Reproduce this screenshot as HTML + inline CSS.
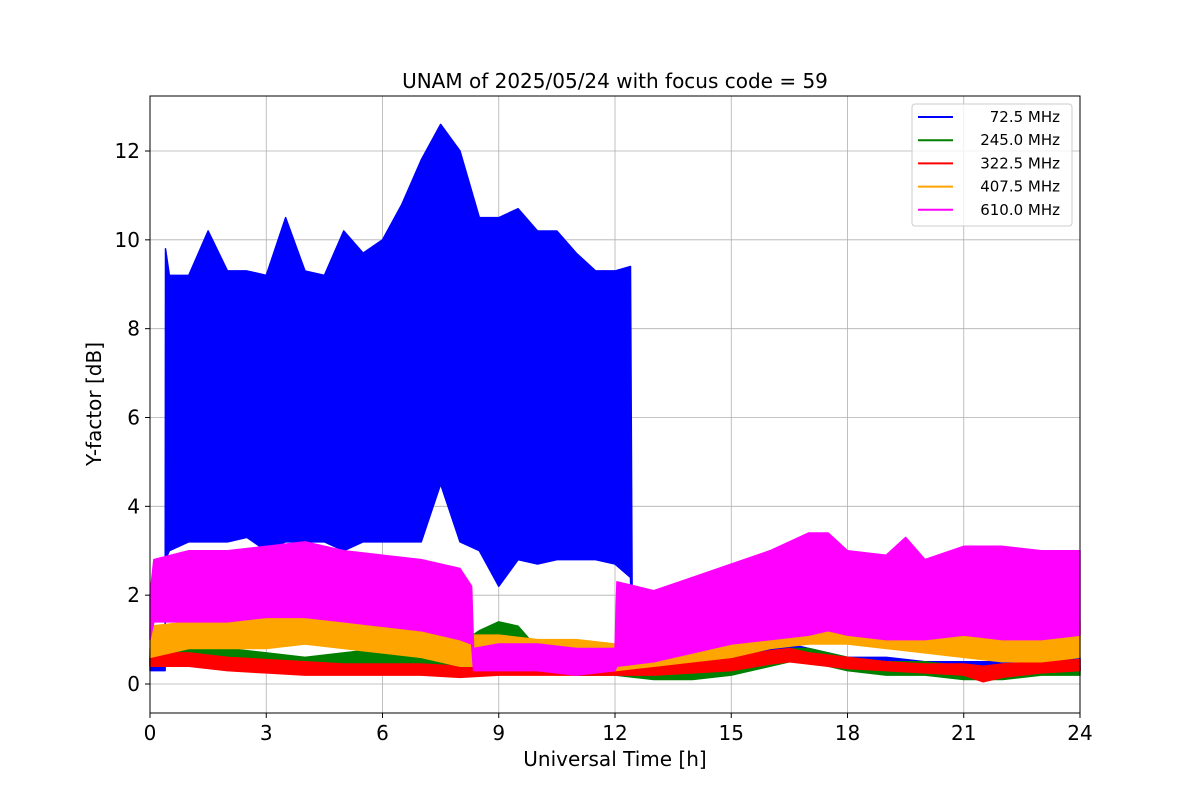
<!DOCTYPE html>
<html><head><meta charset="utf-8">
<style>
body{margin:0;background:#fff;}
svg text{font-family:"DejaVu Sans","Liberation Sans",sans-serif;fill:#000;}
</style></head>
<body>
<svg id="chart" width="1200" height="800" xmlns="http://www.w3.org/2000/svg">
<rect width="1200" height="800" fill="#fff"/>
<g id="grid"></g>
<g id="series"></g>
<rect x="150" y="96" width="930" height="617" fill="none" stroke="#000" stroke-width="1"/>
<g id="axes"></g>
<text x="615" y="88" text-anchor="middle" font-size="20">UNAM of 2025/05/24 with focus code = 59</text>
<text x="615" y="766" text-anchor="middle" font-size="20">Universal Time [h]</text>
<text transform="translate(101,404) rotate(-90)" text-anchor="middle" font-size="20">Y-factor [dB]</text>
<g id="legend">
<rect x="912" y="104" width="160" height="122" rx="3" fill="#fff" fill-opacity="0.8" stroke="#ccc"/>
</g>
</svg>
<script>
const xTicks=[0,3,6,9,12,15,18,21,24];
const yTicks=[0,2,4,6,8,10,12];
const seriesNames=["72.5 MHz","245.0 MHz","322.5 MHz","407.5 MHz","610.0 MHz"];
const seriesColors=["#0000ff","#008000","#ff0000","#ffa500","#ff00ff"];
const blueT=[0,0.39,0.4,0.5,1,1.5,2,2.5,3,3.5,4,4.5,5,5.5,6,6.5,7,7.5,8,8.5,9,9.5,10,10.5,11,11.5,12,12.4,12.45,13,14,15,16,16.5,17,18,19,20,21,22,23,24];
const blueLo=[0.3,0.3,2.8,3.0,3.2,3.2,3.2,3.3,3.0,3.2,3.2,3.2,3.0,3.2,3.2,3.2,3.2,4.5,3.2,3.0,2.2,2.8,2.7,2.8,2.8,2.8,2.7,2.4,0.3,0.3,0.3,0.4,0.5,0.6,0.5,0.4,0.3,0.3,0.2,0.2,0.3,0.3];
const blueHi=[0.6,0.6,9.8,9.2,9.2,10.2,9.3,9.3,9.2,10.5,9.3,9.2,10.2,9.7,10.0,10.8,11.8,12.6,12.0,10.5,10.5,10.7,10.2,10.2,9.7,9.3,9.3,9.4,0.7,0.6,0.6,0.7,0.8,0.9,0.8,0.6,0.6,0.5,0.5,0.5,0.6,0.6];
const greenT=[0,1,2,3,4,5,6,7,8,8.5,9,9.5,10,11,12,13,14,15,16,16.5,17,18,19,20,21,22,23,24];
const greenLo=[0.4,0.5,0.5,0.4,0.3,0.3,0.4,0.4,0.4,0.5,0.6,0.5,0.3,0.2,0.2,0.1,0.1,0.2,0.4,0.5,0.5,0.3,0.2,0.2,0.1,0.1,0.2,0.2];
const greenHi=[0.8,0.9,0.8,0.7,0.6,0.7,0.8,0.8,0.9,1.2,1.4,1.3,0.8,0.6,0.5,0.4,0.4,0.5,0.7,0.8,0.8,0.6,0.5,0.5,0.4,0.4,0.4,0.4];
const redT=[0,1,2,3,4,5,6,7,8,9,10,11,12,13,14,15,16,16.5,17,18,19,20,21,21.5,22,23,24];
const redLo=[0.4,0.4,0.3,0.25,0.2,0.2,0.2,0.2,0.15,0.2,0.2,0.2,0.2,0.2,0.25,0.3,0.45,0.5,0.45,0.35,0.3,0.25,0.2,0.05,0.15,0.25,0.3];
const redHi=[0.7,0.7,0.6,0.55,0.5,0.45,0.45,0.45,0.4,0.45,0.45,0.45,0.45,0.45,0.5,0.6,0.75,0.8,0.7,0.6,0.5,0.45,0.45,0.4,0.45,0.5,0.55];
const orangeT=[0,1,2,3,4,5,6,7,8,9,10,11,12,13,14,15,16,17,18,19,20,21,22,23,24];
const orangeLo=[0.6,0.8,0.8,0.8,0.9,0.8,0.7,0.6,0.4,0.4,0.4,0.3,0.3,0.4,0.5,0.6,0.8,0.9,0.9,0.8,0.7,0.6,0.5,0.5,0.6];
const orangeHi=[1.3,1.4,1.4,1.5,1.5,1.4,1.3,1.2,1.1,1.1,1.0,1.0,0.9,1.0,1.1,1.2,1.4,1.5,1.5,1.4,1.3,1.2,1.2,1.3,1.4];
const magT=[0,0.1,1,2,3,4,5,6,7,8,8.3,8.35,9,10,11,12,12.05,13,14,15,16,17,17.5,18,19,19.5,20,21,22,23,24];
const magLo=[1.0,1.4,1.4,1.4,1.5,1.5,1.4,1.3,1.2,1.0,0.9,0.3,0.3,0.3,0.2,0.3,0.4,0.5,0.7,0.9,1.0,1.1,1.2,1.1,1.0,1.0,1.0,1.1,1.0,1.0,1.1];
const magHi=[2.0,2.8,3.0,3.0,3.1,3.2,3.0,2.9,2.8,2.6,2.2,0.8,0.9,0.9,0.8,0.8,2.3,2.1,2.4,2.7,3.0,3.4,3.4,3.0,2.9,3.3,2.8,3.1,3.1,3.0,3.0];

const X0=150,X1=1080,Y0=684,Y12=151;
function xs(v){return X0+(v-0)/24*(X1-X0);}
function ys(v){return Y0+(v)*(Y12-Y0)/12;}
const NS="http://www.w3.org/2000/svg";
function mk(tag,attrs,parent){const e=document.createElementNS(NS,tag);for(const k in attrs)e.setAttribute(k,attrs[k]);parent.appendChild(e);return e;}
const grid=document.getElementById('grid'),axes=document.getElementById('axes'),ser=document.getElementById('series'),leg=document.getElementById('legend');
xTicks.forEach(t=>{
 const gl=mk('line',{x1:xs(t),x2:xs(t),y1:96,y2:713,stroke:'#b0b0b0','stroke-width':0.8},grid);
 
 
 mk('line',{x1:xs(t),x2:xs(t),y1:713,y2:718,stroke:'#000'},axes);
 const tx=mk('text',{x:xs(t),y:740,'text-anchor':'middle','font-size':20},axes);tx.textContent=t;
 
 
});
yTicks.forEach(t=>{
 const gl=mk('line',{x1:150,x2:1080,y1:ys(t),y2:ys(t),stroke:'#b0b0b0','stroke-width':0.8},grid);
 
 
 mk('line',{x1:145,x2:150,y1:ys(t),y2:ys(t),stroke:'#000'},axes);
 const tx=mk('text',{x:140,y:ys(t)+7,'text-anchor':'end','font-size':20},axes);tx.textContent=t;
 
 
});
const all=[[blueT,blueLo,blueHi],[greenT,greenLo,greenHi],[redT,redLo,redHi],[orangeT,orangeLo,orangeHi],[magT,magLo,magHi]];
all.forEach((s,i)=>{
 const [t,lo,hi]=s;let pts=[];
 for(let k=0;k<t.length;k++)pts.push(xs(t[k])+','+ys(hi[k]));
 for(let k=t.length-1;k>=0;k--)pts.push(xs(t[k])+','+ys(lo[k]));
 const p=mk('polygon',{points:pts.join(' '),fill:seriesColors[i],stroke:seriesColors[i],'stroke-width':1.5,'stroke-linejoin':'round'},ser);
 
 
});
seriesNames.forEach((n,i)=>{
 const y=117+i*23.2;
 const l=mk('line',{x1:918,x2:953,y1:y,y2:y,stroke:seriesColors[i],'stroke-width':2},leg);
 
 
 const tx=mk('text',{x:1060,y:y+5,'text-anchor':'end','font-size':15},leg);tx.textContent=n;
 
 
});
</script>
</body></html>
